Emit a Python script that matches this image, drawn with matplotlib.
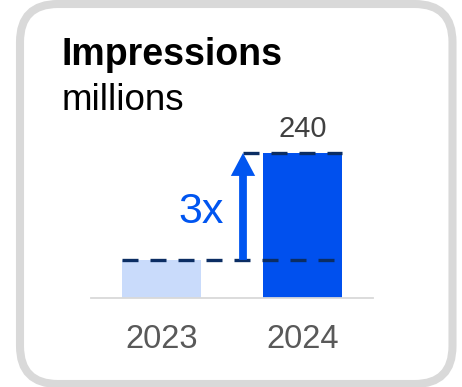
import matplotlib.pyplot as plt
from matplotlib.patches import FancyBboxPatch
from matplotlib.transforms import IdentityTransform

plt.rcParams['font.family'] = ['Liberation Sans', 'DejaVu Sans']

years = ['2023', '2024']
impressions = [63, 240]
bar_colors = ['#c9dbfb', '#0050ee']
growth_label = '3x'

bar_w = 0.56
dash_color = '#0b2d63'
arrow_color = '#0055f0'

fig = plt.figure(figsize=(4.62, 3.87), dpi=100)

# rounded card outline, drawn in pixel space
card = FancyBboxPatch((20, 3), 432.5, 380, boxstyle='round,pad=0,rounding_size=38',
                      transform=IdentityTransform(), facecolor='none',
                      edgecolor='#d9d9d9', linewidth=5.8, zorder=0)
fig.patches.append(card)

fig.text(62 / 462, 1 - 65 / 387, 'Impressions', fontsize=27, fontweight='bold',
         color='black', va='baseline', ha='left')
fig.text(62 / 462, 1 - 110 / 387, 'millions', fontsize=26.5,
         color='black', va='baseline', ha='left')

ax = fig.add_axes([91 / 462, 89 / 387, 282 / 462, 198 / 387])
ax.set_xlim(-0.5, 1.5)
ax.set_ylim(0, 240 * 198 / 145)
ax.patch.set_alpha(0)

x = range(len(years))
ax.bar(x, impressions, width=bar_w, color=bar_colors, zorder=2)

for s in ['top', 'left', 'right']:
    ax.spines[s].set_visible(False)
ax.spines['bottom'].set_color('#d9d9d9')
ax.spines['bottom'].set_linewidth(1.3)
ax.set_yticks([])
ax.set_xticks(list(x), years)
ax.tick_params(axis='x', length=0, pad=18.5, labelsize=23.5, labelcolor='#595959')

# value label on the 2024 bar
ax.annotate(str(impressions[1]), (1, impressions[1]), xytext=(0, 11.5),
            textcoords='offset points', ha='center', va='baseline',
            fontsize=21, color='#404040')

# dashed reference lines at both bar heights
arrow_x = 1 - bar_w / 2 - 0.142
dash = (0, (4.8, 3.6))
ax.plot([-bar_w / 2, 1 + bar_w / 2], [impressions[0]] * 2, color=dash_color,
        lw=2.4, linestyle=dash, zorder=3)
ax.plot([arrow_x, 1 + bar_w / 2], [impressions[1]] * 2, color=dash_color,
        lw=2.4, linestyle=dash, zorder=3)

# growth arrow
ax.annotate('', xy=(arrow_x, impressions[1]), xytext=(arrow_x, impressions[0]),
            arrowprops=dict(width=5.6, headwidth=17.5, headlength=16.5, shrink=0,
                            color=arrow_color, lw=0), zorder=4)
ax.annotate(growth_label, (arrow_x, (impressions[0] + impressions[1]) / 2),
            xytext=(-13.5, -4), textcoords='offset points', ha='right', va='center',
            fontsize=31, color=arrow_color)

fig.savefig('out.png', dpi=100)
